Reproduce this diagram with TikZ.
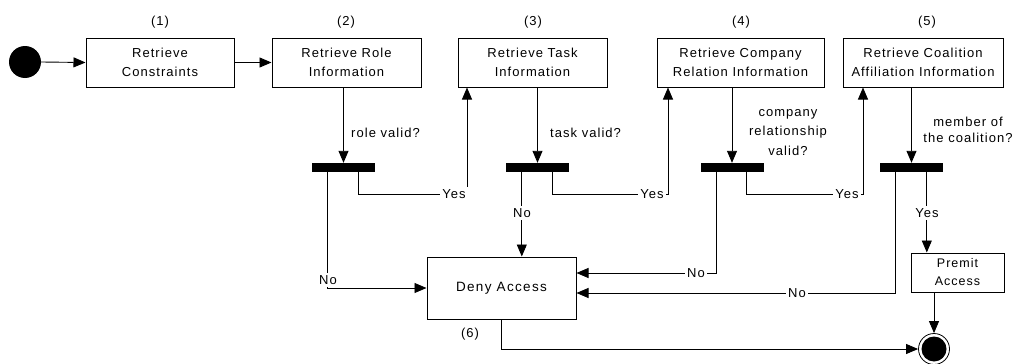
\documentclass[tikz,border=0pt]{standalone}
\usepackage{fontspec}
\setmainfont{Liberation Sans}
\newfontfamily\diagfont[LetterSpace=8]{Liberation Sans}
\newfontfamily\denyfont[LetterSpace=10]{Liberation Sans}
\usetikzlibrary{arrows.meta,calc}

\begin{document}
\begin{tikzpicture}[x=1pt,y=-1pt,
  every node/.style={font={\diagfont\fontsize{13}{19}\selectfont}, inner sep=0pt},
  action/.style={draw, line width=1pt, align=center, minimum height=49pt},
  bar/.style={fill=black, minimum width=63pt, minimum height=9pt},
  startdot/.style={circle, fill=black, minimum size=32pt},
  endring/.style={circle, draw, line width=0.8pt, fill=white, minimum size=31pt},
  flow/.style={line width=0.9pt},
  arr/.style={flow, -{Triangle[length=12pt,width=10pt]}},
  guard/.style={fill=white, inner sep=2pt},
  stepno/.style={}]
\useasboundingbox (0,0) rectangle (1015,364);

% activities
\node[startdot] (start) at (25,62) {};
\node[action, minimum width=148pt] (b1) at (160,62.5) {Retrieve\\Constraints};
\node[action, minimum width=149pt] (b2) at (346.5,62.5) {Retrieve Role\\Information};
\node[action, minimum width=149pt] (b3) at (532.5,62.5) {Retrieve Task\\Information};
\node[action, minimum width=167pt] (b4) at (740.5,62.5) {Retrieve Company\\Relation Information};
\node[action, minimum width=160pt] (b5) at (923,62.5) {Retrieve Coalition\\Affiliation Information};

\node[stepno] (n1) at (160,22) {(1)};
\node[stepno] (n2) at (346,22) {(2)};
\node[stepno] (n3) at (533,22) {(3)};
\node[stepno] (n4) at (741,22) {(4)};
\node[stepno] (n5) at (927,22) {(5)};

\node[action, minimum width=149pt, minimum height=62pt,
      font={\denyfont\fontsize{13.5}{19}\selectfont}] (deny) at (501.5,288) {Deny Access};
\node[stepno] (n6) at (470,334) {(6)};
\node[action, minimum width=93pt, minimum height=39pt,
      font={\diagfont\fontsize{12.5}{18}\selectfont}] (permit) at (957.5,272.5) {Premit\\Access};
\node[endring] (finish) at (934,349) {};
\fill (finish.center) circle (12.5pt);

% decision bars
\node[bar] (j1) at (343.5,167.5) {};
\node[bar] (j2) at (537.5,167.5) {};
\node[bar] (j3) at (732,167.5) {};
\node[bar] (j4) at (911.5,167.5) {};

% guard questions
\node[anchor=west] (q1) at (351,133) {role valid?};
\node[anchor=west] (q2) at (550,133) {task valid?};
\node[align=center, font={\diagfont\fontsize{13}{19.5}\selectfont}] (q3) at (788,132.5) {company\\relationship\\valid?};
\node[align=center, font={\diagfont\fontsize{13}{16.5}\selectfont}] (q4) at (968,130) {member of\\the coalition?};

% branch points
\coordinate (j1n) at ($(j1.south west)+(16,0)$);
\coordinate (j1y) at ($(j1.south west)+(47,0)$);
\coordinate (j2n) at ($(j2.south west)+(16,0)$);
\coordinate (j2y) at ($(j2.south west)+(47,0)$);
\coordinate (j3n) at ($(j3.south west)+(16,0)$);
\coordinate (j3y) at ($(j3.south west)+(46,0)$);
\coordinate (j4n) at ($(j4.south west)+(16,0)$);
\coordinate (j4y) at ($(j4.south west)+(47,0)$);
\coordinate (y1) at (467,194);
\coordinate (y2) at (668,194);
\coordinate (y3) at (863,194);
\coordinate (d3) at ($(deny.east)+(0,-15)$);
\coordinate (d4) at ($(deny.east)+(0,5)$);

% main flow
\draw[arr] (start.east) -- (b1.west);
\draw[arr] (b1.east) -- (b2.west);
\draw[arr] (j1.north |- b2.south) -- (j1.north);
\draw[arr] (j2.north |- b3.south) -- (j2.north);
\draw[arr] (j3.north |- b4.south) -- (j3.north);
\draw[arr] (j4.north |- b5.south) -- (j4.north);

% yes branches
\draw[arr] (j1y) |- (y1) -- (y1 |- b3.south);
\draw[arr] (j2y) |- (y2) -- (y2 |- b4.south);
\draw[arr] (j3y) |- (y3) -- (y3 |- b5.south);
\draw[arr] (j4y) -- (j4y |- permit.north);

% no branches
\draw[arr] (j1n) |- (deny.west);
\draw[arr] (j2n) -- (j2n |- deny.north);
\draw[arr] (j3n) |- (d3);
\draw[arr] (j4n) |- (d4);

% to the final state
\draw[arr] (finish.north |- permit.south) -- (finish.north);
\draw[arr] (deny.south) |- (finish.west);

% branch labels
\node[guard] (l1) at (454,194) {Yes};
\node[guard] (l2) at (652,194) {Yes};
\node[guard] (l3) at (847,194) {Yes};
\node[guard] (l4) at (927,213) {Yes};
\node[guard] (m1) at (328,280) {No};
\node[guard] (m2) at (522,213) {No};
\node[guard] (m3) at (696,273) {No};
\node[guard] (m4) at (797,293) {No};
\end{tikzpicture}
\end{document}
